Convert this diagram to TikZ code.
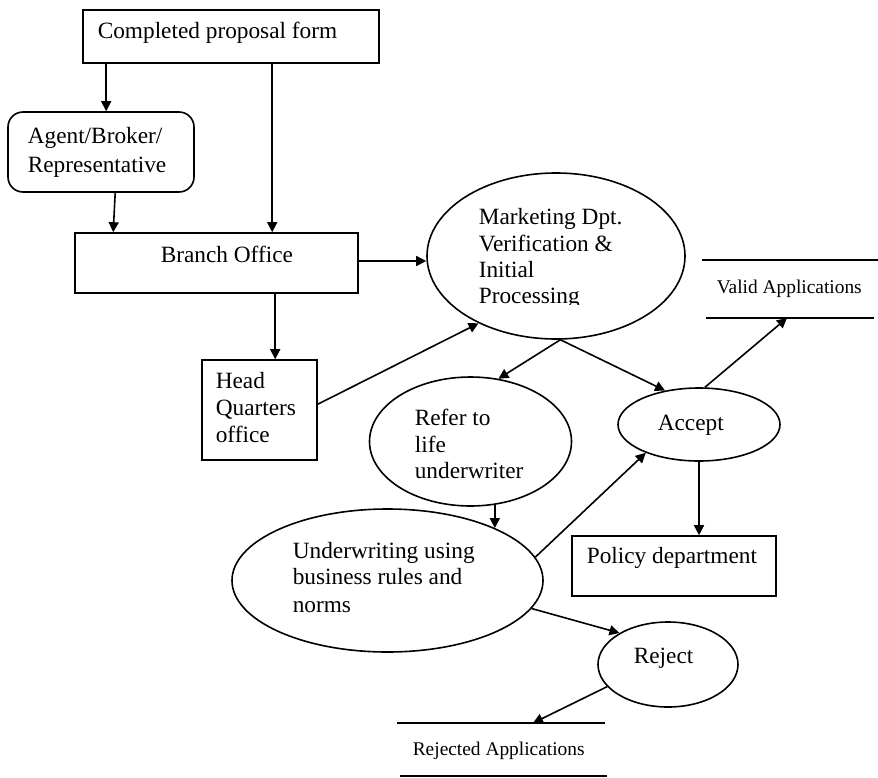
\documentclass[tikz,border=0pt]{standalone}
\usepackage{fontspec}
\setmainfont{Liberation Serif}
\usetikzlibrary{arrows.meta,calc,shapes.geometric}

\begin{document}
\begin{tikzpicture}[x=0.5pt,y=-0.5pt,
  line width=0.8pt,
  boxshape/.style={draw,rectangle,inner sep=0pt},
  ovalshape/.style={draw,ellipse,inner sep=0pt},
  lbl/.style={anchor=base west,inner sep=0pt,font={\fontsize{11.65}{14}\selectfont}},
  smalllbl/.style={anchor=base west,inner sep=0pt,font={\fontsize{9.7}{12}\selectfont}},
  arr/.style={-{Triangle[length=5pt,width=5pt]}},
]
\useasboundingbox (0,0) rectangle (878,777);

% boxes
\node[boxshape,minimum width=148pt,minimum height=26.5pt] (cpf) at (231,36.5) {};
\node[boxshape,rounded corners=7.5pt,minimum width=93pt,minimum height=40pt] (agent) at (101,152) {};
\node[boxshape,minimum width=141.5pt,minimum height=30pt] (branch) at (216.5,263) {};
\node[boxshape,minimum width=57.5pt,minimum height=50pt] (hq) at (259.5,410) {};
\node[boxshape,minimum width=102pt,minimum height=30pt] (policy) at (674,566) {};

% process ellipses
\node[ovalshape,minimum width=129pt,minimum height=83pt] (mkt) at (556,256) {};
\node[ovalshape,minimum width=101pt,minimum height=64.5pt] (refer) at (470.5,441.5) {};
\node[ovalshape,minimum width=155.5pt,minimum height=71.5pt] (uw) at (387.5,580.5) {};
\node[ovalshape,minimum width=81pt,minimum height=36.5pt] (accept) at (699,424.5) {};
\node[ovalshape,minimum width=70pt,minimum height=42.5pt] (reject) at (668,664.5) {};

% labels
\node[lbl] (cpft) at (97,38) {Completed proposal form};
\node[lbl] (agent1) at (27,143) {Agent/Broker/};
\node[lbl] (agent2) at (27,172) {Representative};
\node[lbl] (brt) at (160,262) {Branch Office};
\node[lbl] (mkt1) at (478,224) {Marketing Dpt.};
\node[lbl] (mkt2) at (478,251) {Verification \&};
\node[lbl] (mkt3) at (478,277) {Initial};
\begin{scope}
  \clip (470,282) rectangle (620,304.5);
  \node[lbl] (mkt4) at (478,303) {Processing};
\end{scope}
\node[lbl] (hq1) at (215,388) {Head};
\node[lbl] (hq2) at (215,415) {Quarters};
\node[lbl] (hq3) at (215,442) {office};
\node[lbl] (ref1) at (414,425) {Refer to};
\node[lbl] (ref2) at (414,452) {life};
\node[lbl] (ref3) at (414,478) {underwriter};
\node[lbl] (acct) at (657,430) {Accept};
\node[lbl] (uw1) at (292,558) {Underwriting using};
\node[lbl] (uw2) at (292,584) {business rules and};
\node[lbl] (uw3) at (292,612) {norms};
\node[lbl] (polt) at (586,563) {Policy department};
\node[lbl] (rejt) at (633,663) {Reject};
\node[smalllbl] (validt) at (716,293) {Valid Applications};
\node[smalllbl] (rejectedt) at (412,755) {Rejected Applications};

% data stores (open-ended)
\coordinate (vtl) at (702,260); \coordinate (vtr) at (878,260);
\coordinate (vbl) at (706,318); \coordinate (vbr) at (874,318);
\coordinate (vtip) at (787,318);
\draw (vtl) -- (vtr);
\draw (vbl) -- (vbr);
\coordinate (rtl) at (397,723); \coordinate (rtr) at (605,723);
\coordinate (rbl) at (400,776); \coordinate (rbr) at (607,776);
\coordinate (rtip) at (533,723);
\draw (rtl) -- (rtr);
\draw (rbl) -- (rbr);

% flows
\draw[arr] ($(cpf.south west)+(24,0)$) -- ($(agent.north west)+(99,0)$);
\draw[arr] ($(cpf.south west)+(190,0)$) -- ($(branch.north west)+(198,0)$);
\draw[arr] ($(agent.south west)+(108,0)$) -- ($(branch.north west)+(39,0)$);
\draw[arr] ($(branch.east)+(0,-2)$) -- ($(branch.east -| mkt.west)+(0,-2)$);
\draw[arr] ($(branch.south west)+(201,0)$) -- ($(hq.north west)+(74,0)$);
\draw[arr] ($(hq.north east)+(0,45)$) -- (mkt.221);
\draw[arr] (mkt.-87) -- (refer.66);
\draw[arr] (mkt.-87) -- (accept.135);
\draw[arr] (accept.81) -- (vtip);
\draw[arr] (accept.south) -- (accept.south |- policy.north);
\draw[arr] (refer.-69) -- (refer.-69 |- uw.26);
\draw[arr] (uw.9) -- (accept.208);
\draw[arr] (uw.-11) -- (reject.147);
\draw[arr] (reject.200) -- (rtip);
\end{tikzpicture}
\end{document}
